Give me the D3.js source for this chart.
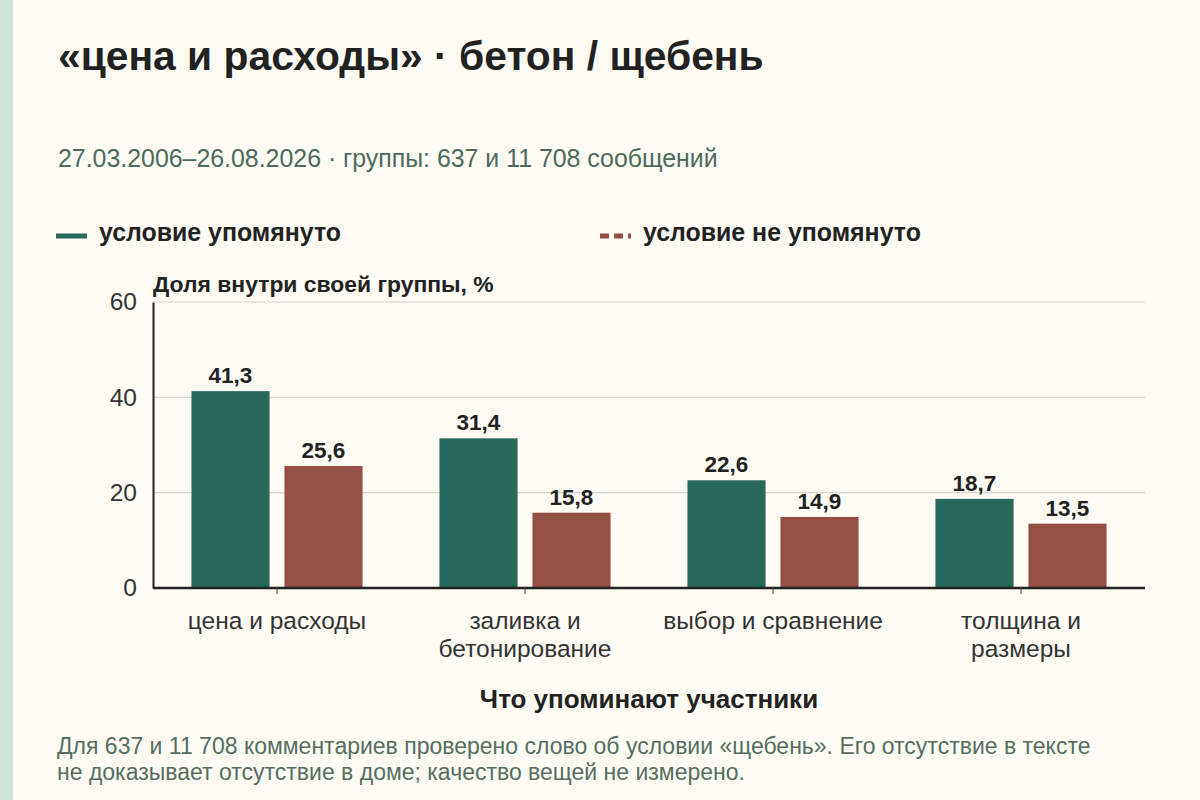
<!DOCTYPE html>
<html>
<head>
<meta charset="utf-8">
<script src="https://cdn.jsdelivr.net/npm/d3@7"></script>
<style>
  body { margin: 0; background: #fdfbf3; }
  svg text { font-family: "Liberation Sans", Arial, sans-serif; }
</style>
</head>
<body>
<div id="chart"></div>
<script>
const categories = [["цена и расходы"], ["заливка и", "бетонирование"], ["выбор и сравнение"], ["толщина и", "размеры"]];
const seriesNames = ["условие упомянуто", "условие не упомянуто"];
const mentioned = [41.3, 31.4, 22.6, 18.7];
const notMentioned = [25.6, 15.8, 14.9, 13.5];
const yTicks = [0, 20, 40, 60];

const width = 1200, height = 800,
    margin = {top: 302, right: 55, bottom: 212, left: 153},
    colors = ["#27685a", "#945045"];

const svg = d3.select("#chart").append("svg")
    .attr("width", width)
    .attr("height", height);

svg.append("rect").attr("width", width).attr("height", height).attr("fill", "#fdfbf3");
svg.append("rect").attr("width", 13).attr("height", height).attr("fill", "#cfe3db");

svg.append("text")
    .attr("x", 58).attr("y", 70)
    .attr("font-size", 40.8).attr("font-weight", "bold").attr("fill", "#222")
    .text("«цена и расходы» · бетон / щебень");

svg.append("text")
    .attr("x", 58).attr("y", 167)
    .attr("font-size", 24.9).attr("fill", "#4e6a5e")
    .text("27.03.2006–26.08.2026 · группы: 637 и 11 708 сообщений");

// legend
const legendX = [56, 600];
seriesNames.forEach((name, i) => {
    svg.append("line")
        .attr("x1", legendX[i]).attr("x2", legendX[i] + 31)
        .attr("y1", 236).attr("y2", 236)
        .attr("stroke", colors[i]).attr("stroke-width", 5)
        .attr("stroke-dasharray", i === 1 ? "9,5" : null);
    svg.append("text")
        .attr("x", legendX[i] + 43).attr("y", 241)
        .attr("font-size", 24.9).attr("font-weight", "bold").attr("fill", "#222")
        .text(name);
});

const x0 = d3.scaleBand()
    .domain(d3.range(categories.length))
    .range([margin.left, width - margin.right])
    .paddingInner(0.31)
    .paddingOuter(0.155);

const x1 = d3.scaleBand()
    .domain([0, 1])
    .range([0, x0.bandwidth()])
    .paddingInner(0.16);

const y = d3.scaleLinear()
    .domain([0, 60])
    .range([height - margin.bottom, margin.top]);

// gridlines
svg.append("g")
    .selectAll("line")
    .data(yTicks.filter(d => d > 0))
    .join("line")
    .attr("x1", margin.left).attr("x2", width - margin.right)
    .attr("y1", d => y(d)).attr("y2", d => y(d))
    .attr("stroke", "#d6d3cb").attr("stroke-width", 1.2);

const yAxis = svg.append("g")
    .attr("transform", `translate(${margin.left},0)`)
    .call(d3.axisLeft(y).tickValues(yTicks).tickSize(0).tickPadding(16));
yAxis.select(".domain").attr("stroke", "#222").attr("stroke-width", 2);
yAxis.selectAll("text").attr("font-size", 24.5).attr("fill", "#333")
    .style("font-family", "'Liberation Sans', Arial, sans-serif");

svg.append("text")
    .attr("x", margin.left).attr("y", 292)
    .attr("font-size", 22.9).attr("font-weight", "bold").attr("fill", "#222")
    .text("Доля внутри своей группы, %");

const groups = svg.append("g")
    .selectAll("g")
    .data(categories.map((c, i) => ({i, values: [mentioned[i], notMentioned[i]]})))
    .join("g")
    .attr("transform", d => `translate(${x0(d.i)},0)`);

groups.selectAll("rect")
    .data(d => d.values.map((v, s) => ({v, s})))
    .join("rect")
    .attr("x", d => x1(d.s))
    .attr("width", x1.bandwidth())
    .attr("y", d => y(d.v))
    .attr("height", d => y(0) - y(d.v))
    .attr("fill", d => colors[d.s]);

groups.selectAll("text")
    .data(d => d.values.map((v, s) => ({v, s})))
    .join("text")
    .attr("x", d => x1(d.s) + x1.bandwidth() / 2)
    .attr("y", d => y(d.v) - 8)
    .attr("text-anchor", "middle")
    .attr("font-size", 22.5).attr("font-weight", "bold").attr("fill", "#222")
    .text(d => d.v.toFixed(1).replace(".", ","));

const xAxis = svg.append("g")
    .attr("transform", `translate(0,${y(0)})`)
    .call(d3.axisBottom(x0).tickSize(6).tickFormat(""));
xAxis.select(".domain").attr("stroke", "#222").attr("stroke-width", 2.5)
    .attr("d", `M${margin.left},0H${width - margin.right}`);
xAxis.selectAll(".tick line").attr("stroke", "#444").attr("stroke-width", 1);

xAxis.selectAll(".tick")
    .append("text")
    .attr("fill", "#333").attr("font-size", 24.5)
    .attr("text-anchor", "middle")
    .selectAll("tspan")
    .data(i => categories[i])
    .join("tspan")
    .attr("x", 0)
    .attr("y", (d, k) => 41 + k * 28)
    .text(d => d);

svg.append("text")
    .attr("x", (margin.left + width - margin.right) / 2).attr("y", 708)
    .attr("text-anchor", "middle")
    .attr("font-size", 26).attr("font-weight", "bold").attr("fill", "#222")
    .text("Что упоминают участники");

const note = ["Для 637 и 11 708 комментариев проверено слово об условии «щебень». Его отсутствие в тексте",
              "не доказывает отсутствие в доме; качество вещей не измерено."];
svg.append("g").selectAll("text")
    .data(note)
    .join("text")
    .attr("x", 57).attr("y", (d, i) => 754 + i * 25.5)
    .attr("font-size", 23).attr("fill", "#566d62")
    .text(d => d);
</script>
</body>
</html>
